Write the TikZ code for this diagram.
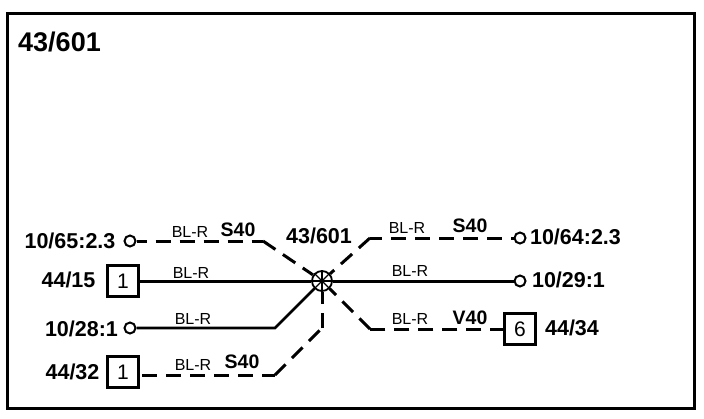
\documentclass[tikz,border=0pt]{standalone}
\usepackage{fontspec}
\setmainfont{Liberation Sans}
\tikzset{
  wire/.style={line width=3pt},
  thinwire/.style={line width=2.6pt},
  dashwire/.style={line width=3pt,dash pattern=on 15pt off 9pt},
  term/.style={circle,draw,line width=2pt,inner sep=0pt,minimum size=11pt},
  pinbox/.style={rectangle,draw,line width=2.4pt,inner sep=0pt,minimum width=31pt,minimum height=31pt,font=\fontsize{21}{21}\selectfont},
  pinlabel/.style={font=\fontsize{21.5}{22}\selectfont\bfseries,inner sep=0pt},
  wiretype/.style={font=\fontsize{16}{16}\selectfont,inner sep=0pt},
  wirecode/.style={font=\fontsize{19.5}{20}\selectfont\bfseries,inner sep=0pt}
}
\begin{document}
\begin{tikzpicture}[x=1pt,y=-1pt]
  \useasboundingbox (0,0) rectangle (704,418);
  % frame
  \draw[line width=3pt] (7,13) rectangle (694,408);
  \node[inner sep=0pt,font=\fontsize{27}{27}\selectfont\bfseries] (title) at (59.5,42) {43/601};
  % hub
  \node[circle,draw,line width=1.8pt,inner sep=0pt,minimum size=20pt] (hub) at (322,281) {};
  % terminals and boxes
  \node[term] (t6510) at (130,241) {};
  \node[term] (t2810) at (130,328) {};
  \node[term] (t6410) at (520,238) {};
  \node[term] (t2910) at (520,281) {};
  \node[pinbox] (b4415) at (123,281) {1};
  \node[pinbox] (b4432) at (123,372) {1};
  \node[pinbox] (b4434) at (520,329) {6};
  % bends
  \coordinate (a1) at (263,241);
  \coordinate (a2) at (275,328);
  \coordinate (a3) at (275,375);
  \coordinate (a4) at (322,328);
  \coordinate (a5) at (370,238);
  \coordinate (a6) at (370,329);
  \coordinate (a7) at (142,375);
  % wires
  \draw[dashwire,dash phase=5pt] (t6510) -- (a1);
  \draw[dashwire] (a1) -- (hub);
  \draw[wire] (b4415) -- (hub);
  \draw[thinwire] (t2810) -- (a2) -- (hub);
  \draw[dashwire] (a7) -- (a3);
  \draw[dashwire] (a3) -- (a4);
  \draw[dashwire] (a4) -- (hub);
  \draw[dashwire,dash phase=12pt] (t6410) -- (a5);
  \draw[dashwire] (a5) -- (hub);
  \draw[wire] (hub) -- (t2910);
  \draw[dashwire,dash phase=2pt] (b4434) -- (a6);
  \draw[dashwire] (a6) -- (hub);
  % hub star
  \foreach \ang in {0,45,90,135}
    \draw[line width=1.2pt] (hub.\ang) -- (hub.\ang+180);
  \node[pinlabel] (l6510) at (70,241) {10/65:2.3};
  \node[pinlabel] (l4415) at (68.5,280) {44/15};
  \node[pinlabel] (l2810) at (81.5,329) {10/28:1};
  \node[pinlabel] (l4432) at (72.5,372) {44/32};
  \node[pinlabel] (l601) at (319,236) {43/601};
  \node[pinlabel] (l6410) at (575.5,237) {10/64:2.3};
  \node[pinlabel] (l2910) at (568.5,280) {10/29:1};
  \node[pinlabel] (l4434) at (572,328) {44/34};
  % wire types
  \node[wiretype] (w1) at (190,232) {BL-R};
  \node[wiretype] (w2) at (191,273) {BL-R};
  \node[wiretype] (w3) at (193,319) {BL-R};
  \node[wiretype] (w4) at (193,365) {BL-R};
  \node[wiretype] (w5) at (407,228) {BL-R};
  \node[wiretype] (w6) at (410,271) {BL-R};
  \node[wiretype] (w7) at (410,319) {BL-R};
  \node[wirecode] (s1) at (238,230) {S40};
  \node[wirecode] (s2) at (242,362) {S40};
  \node[wirecode] (s3) at (470,226) {S40};
  \node[wirecode] (v1) at (470,318) {V40};
\end{tikzpicture}
\end{document}
